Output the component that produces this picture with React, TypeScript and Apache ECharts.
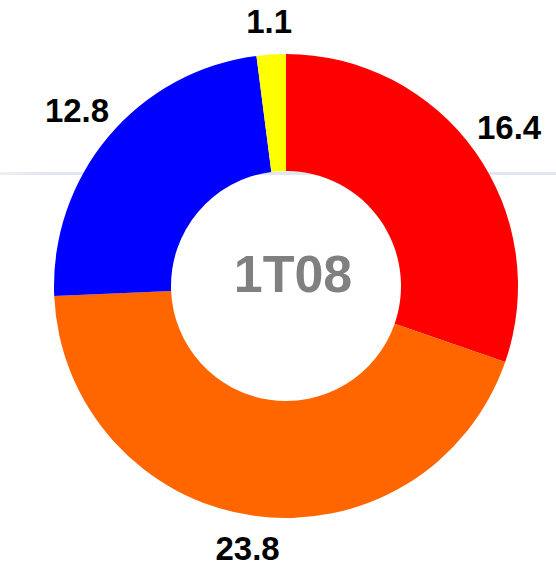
import React, { useEffect, useRef } from "react";
import * as echarts from "echarts";

const categories = ["A", "B", "C", "D"];
const values = [16.4, 23.8, 12.8, 1.1];
const sliceColors = ["#ff0000", "#ff6600", "#0000ff", "#ffff00"];
const centerLabel = "1T08";

const CX = 286;
const CY = 286;
const R_IN = 115;
const R_OUT = 232;
const START = 90;

export default function App() {
  const ref = useRef<HTMLDivElement>(null);
  useEffect(() => {
    if (!ref.current) return;
    const chart = echarts.init(ref.current, null, { renderer: "svg" });
    const total = values.reduce((a, b) => a + b, 0);
    const midAngles: number[] = [];
    let acc = 0;
    values.forEach((v) => {
      const mid = START - ((acc + v / 2) / total) * 360;
      midAngles.push(mid);
      acc += v;
    });
    chart.setOption({
      animation: false,
      backgroundColor: "#ffffff",
      graphic: [
        {
          type: "rect",
          z: -10,
          shape: { x: 0, y: 172, width: 556, height: 3 },
          style: {
            fill: new echarts.graphic.LinearGradient(0, 0, 1, 0, [
              { offset: 0, color: "#eef0f4" },
              { offset: 0.08, color: "#e2e6ed" },
              { offset: 1, color: "#e2e6ed" },
            ]),
          },
          silent: true,
        },
        {
          type: "text",
          z: 100,
          x: 293,
          y: 274,
          style: {
            text: centerLabel,
            fill: "#808080",
            font: 'bold 52px "Liberation Sans", Arial, sans-serif',
            align: "center",
            verticalAlign: "middle",
          },
          silent: true,
        },
      ],
      series: [
        {
          type: "pie",
          center: [CX, CY],
          radius: [R_IN, R_OUT],
          startAngle: START,
          clockwise: true,
          silent: true,
          emphasis: { disabled: true },
          itemStyle: { borderWidth: 0 },
          label: {
            show: true,
            position: "outside",
            overflow: "none",
            formatter: (p: any) => String(values[p.dataIndex]),
            color: "#000000",
            fontFamily: '"Liberation Sans", Arial, sans-serif',
            fontWeight: "bold",
            fontSize: 33,
          },
          labelLine: { show: false },
          labelLayout: (params: any) => {
            const a = (midAngles[params.dataIndex] * Math.PI) / 180;
            const c = Math.cos(a);
            const s = Math.sin(a);
            const R = R_OUT + 32 + 12 * Math.abs(c);
            return {
              x: CX + R * c,
              y: CY - R * s,
              width: 120,
              align: "center",
              verticalAlign: "middle",
            };
          },
          data: categories.map((name, i) => ({
            name,
            value: values[i],
            itemStyle: { color: sliceColors[i] },
          })),
        },
      ],
    });
    return () => chart.dispose();
  }, []);
  return (
    <div
      ref={ref}
      style={{ position: "absolute", left: 0, top: 0, width: 556, height: 567 }}
    />
  );
}
